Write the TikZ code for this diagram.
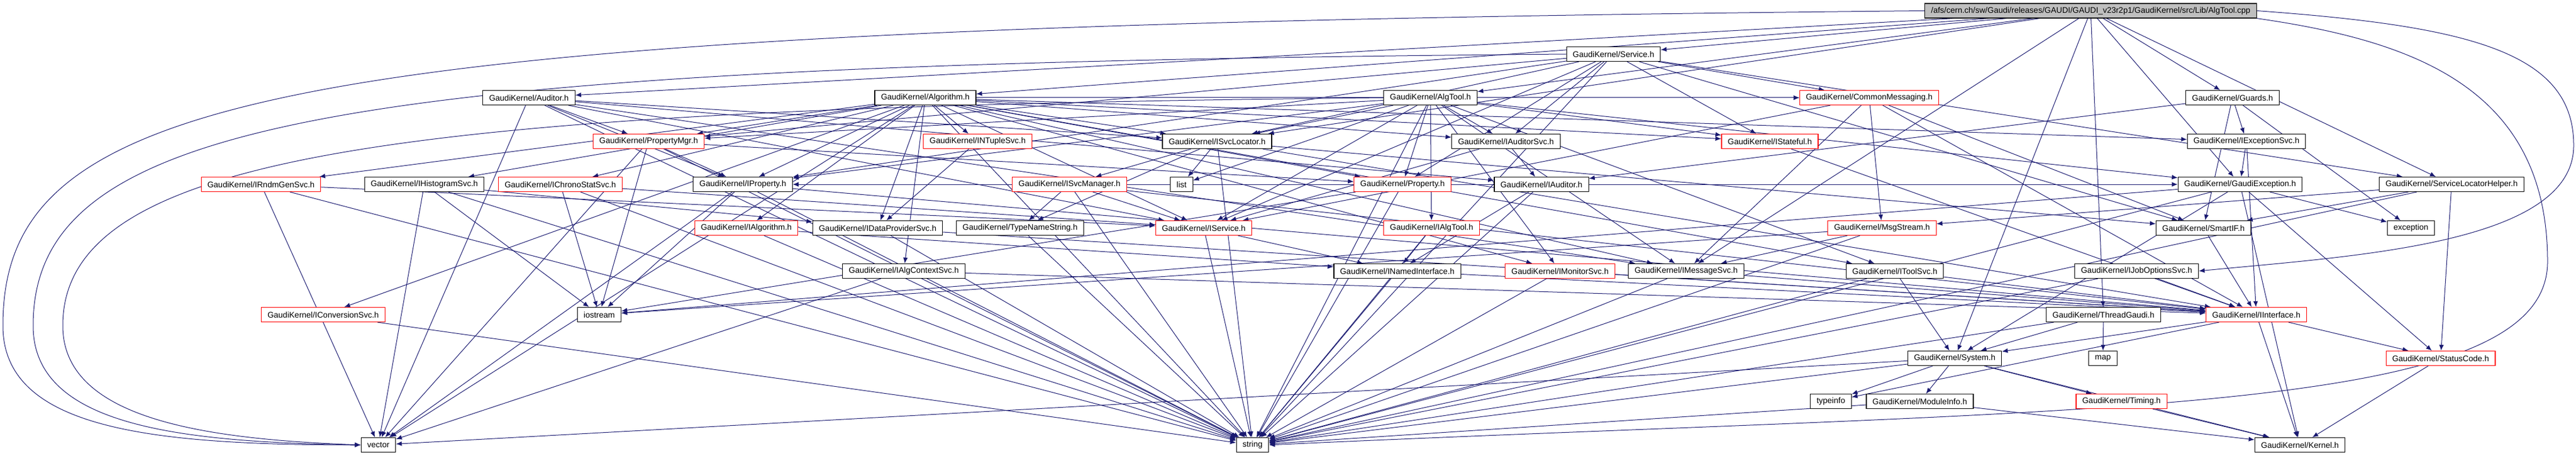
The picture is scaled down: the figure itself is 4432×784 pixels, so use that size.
\documentclass[tikz,border=0pt]{standalone}
\usepackage{fontspec}
\setmainfont{Liberation Sans}
\usetikzlibrary{arrows.meta,positioning,backgrounds}

\definecolor{depblue}{RGB}{25,25,112}
\definecolor{rootgray}{RGB}{191,191,191}

\tikzset{
    hdr/.style={rectangle, draw=black, line width=0.9pt, fill=white,
        minimum height=18.75pt, inner xsep=8pt, inner ysep=0pt,
        font=\fontsize{10.5}{12}\selectfont},
    trunc/.style={hdr, draw=red},
    rootbox/.style={hdr, fill=rootgray},
    dep/.style={>={Latex[length=7.5pt,width=6pt]}, ->, color=depblue, line width=0.75pt}
}

\begin{document}
\begin{tikzpicture}[x=0.75pt,y=-0.75pt]
    \useasboundingbox (0,0) rectangle (4432,784);

    \node[rootbox] (root) at (3597,18.5) {/afs/cern.ch/sw/Gaudi/releases/GAUDI/GAUDI\_v23r2p1/GaudiKernel/src/Lib/AlgTool.cpp};

    \node[hdr] (service) at (2776,93) {GaudiKernel/Service.h};

    \node[hdr] (auditor) at (910,168) {GaudiKernel/Auditor.h};
    \node[hdr] (algorithm) at (1592,168) {GaudiKernel/Algorithm.h};
    \node[hdr] (algtool) at (2461,168) {GaudiKernel/AlgTool.h};
    \node[trunc] (commonmsg) at (3216,168) {GaudiKernel/CommonMessaging.h};
    \node[hdr] (guards) at (3841,168) {GaudiKernel/Guards.h};

    \node[trunc] (propmgr) at (1116,243) {GaudiKernel/PropertyMgr.h};
    \node[trunc] (ntuplesvc) at (1682,243) {GaudiKernel/INTupleSvc.h};
    \node[hdr] (svcloc) at (2094,243) {GaudiKernel/ISvcLocator.h};
    \node[hdr] (auditorsvc) at (2591,243) {GaudiKernel/IAuditorSvc.h};
    \node[trunc] (istateful) at (3045,243) {GaudiKernel/IStateful.h};
    \node[hdr] (excsvc) at (3865,243) {GaudiKernel/IExceptionSvc.h};

    \node[trunc] (rndmgen) at (449,317) {GaudiKernel/IRndmGenSvc.h};
    \node[hdr] (histosvc) at (730,317) {GaudiKernel/IHistogramSvc.h};
    \node[trunc] (chronosvc) at (964,317) {GaudiKernel/IChronoStatSvc.h};
    \node[hdr] (iproperty) at (1278,317) {GaudiKernel/IProperty.h};
    \node[trunc] (svcmgr) at (1840,317) {GaudiKernel/ISvcManager.h};
    \node[hdr] (list) at (2033,317) {list};
    \node[trunc] (property) at (2413,317) {GaudiKernel/Property.h};
    \node[hdr] (iauditor) at (2652,317) {GaudiKernel/IAuditor.h};
    \node[hdr] (gaudiexc) at (3854,317) {GaudiKernel/GaudiException.h};
    \node[hdr] (slhelper) at (4218,317) {GaudiKernel/ServiceLocatorHelper.h};

    \node[trunc] (ialgorithm) at (1284,392) {GaudiKernel/IAlgorithm.h};
    \node[hdr] (dataprov) at (1510,392) {GaudiKernel/IDataProviderSvc.h};
    \node[hdr] (typename) at (1755,392) {GaudiKernel/TypeNameString.h};
    \node[trunc] (iservice) at (2071,392) {GaudiKernel/IService.h};
    \node[trunc] (ialgtool) at (2463,392) {GaudiKernel/IAlgTool.h};
    \node[trunc] (msgstream) at (3238,392) {GaudiKernel/MsgStream.h};
    \node[hdr] (smartif) at (3791,392) {GaudiKernel/SmartIF.h};
    \node[hdr] (exception) at (4148,392) {exception};

    \node[hdr] (algctx) at (1555,466) {GaudiKernel/IAlgContextSvc.h};
    \node[hdr] (namedif) at (2404,466) {GaudiKernel/INamedInterface.h};
    \node[trunc] (monitorsvc) at (2684,466) {GaudiKernel/IMonitorSvc.h};
    \node[hdr] (msgsvc) at (2901,466) {GaudiKernel/IMessageSvc.h};
    \node[hdr] (toolsvc) at (3260,466) {GaudiKernel/IToolSvc.h};
    \node[hdr] (jobopt) at (3676,466) {GaudiKernel/IJobOptionsSvc.h};

    \node[trunc] (convsvc) at (556,541) {GaudiKernel/IConversionSvc.h};
    \node[hdr] (iostream) at (1031,541) {iostream};
    \node[hdr] (threadgaudi) at (3619,541) {GaudiKernel/ThreadGaudi.h};
    \node[trunc] (iinterface) at (3882,541) {GaudiKernel/IInterface.h};

    \node[hdr] (system) at (3363,616) {GaudiKernel/System.h};
    \node[hdr] (map) at (3618,616) {map};
    \node[trunc] (statuscode) at (4199,616) {GaudiKernel/StatusCode.h};

    \node[hdr] (typeinfo) at (3150,690) {typeinfo};
    \node[hdr] (moduleinfo) at (3303,690) {GaudiKernel/ModuleInfo.h};
    \node[trunc] (timing) at (3650,690) {GaudiKernel/Timing.h};

    \node[hdr] (vector) at (651,765) {vector};
    \node[hdr] (string) at (2155,765) {string};
    \node[hdr] (kernel) at (3957,765) {GaudiKernel/Kernel.h};

    \coordinate (farleftA) at (5,560);
    \coordinate (farleftB) at (57,560);
    \coordinate (farleftC) at (108,560);
    \coordinate (farrightA) at (4428,250);
    \coordinate (farrightB) at (4383,450);

    \begin{pgfonlayer}{background}
        \path[dep] (root) edge (service) edge (auditor) edge (algorithm) edge (algtool)
            edge (svcloc) edge (msgsvc) edge (system) edge (gaudiexc) edge (slhelper)
            edge (threadgaudi) edge (guards);
        \draw[dep] (root.west) .. controls (500,45) and (5,150) .. (farleftA)
            .. controls (5,735) and (250,765) .. (vector.west);
        \draw[dep] (root.east) .. controls (4250,45) and (4428,90) .. (farrightA)
            .. controls (4428,420) and (4050,440) .. (jobopt.east);
        \draw[dep] (root.south east) .. controls (4150,70) and (4383,150) .. (farrightB)
            .. controls (4383,720) and (3600,700) .. (string.east);

        \path[dep] (service) edge (commonmsg) edge (auditorsvc) edge (property) edge (istateful)
            edge (iservice) edge (svcloc) edge (propmgr) edge (iproperty) edge (slhelper)
            edge (smartif) edge (string);
        \draw[dep] (service.west) .. controls (600,110) and (57,200) .. (farleftB)
            .. controls (57,730) and (300,760) .. (vector.west);

        \path[dep] (auditor) edge (iauditor) edge (iproperty) edge (propmgr) edge (iservice)
            edge (svcloc) edge (msgsvc) edge (vector) edge (string);

        \path[dep] (algorithm) edge (iproperty) edge (ialgorithm) edge (iservice) edge (istateful)
            edge (propmgr) edge (svcloc) edge (msgsvc) edge (dataprov) edge (histosvc)
            edge (convsvc) edge (rndmgen) edge (chronosvc) edge (auditorsvc) edge (toolsvc)
            edge (monitorsvc) edge (excsvc) edge (algctx) edge (property) edge (commonmsg)
            edge (ntuplesvc) edge (string) edge (vector);

        \path[dep] (algtool) edge (ialgtool) edge (iproperty) edge (iservice) edge (svcloc)
            edge (msgsvc) edge (toolsvc) edge (propmgr) edge (auditorsvc) edge (monitorsvc)
            edge (istateful) edge (property) edge (commonmsg) edge (gaudiexc) edge (string)
            edge (list);
        \draw[dep] (algtool.west) .. controls (700,185) and (108,260) .. (farleftC)
            .. controls (108,720) and (350,755) .. (vector.west);

        \path[dep] (commonmsg) edge (msgstream) edge (msgsvc) edge (smartif) edge (iservice)
            edge (iinterface);
        \path[dep] (guards) edge (excsvc) edge (exception) edge (iauditor) edge (smartif);
        \path[dep] (propmgr) edge (iproperty) edge (property) edge (iostream) edge (vector)
            edge (string);
        \path[dep] (ntuplesvc) edge (dataprov);
        \path[dep] (svcloc) edge (svcmgr) edge (list) edge (iinterface) edge (smartif)
            edge (typename) edge (string);
        \path[dep] (auditorsvc) edge (iauditor) edge (iservice);
        \path[dep] (istateful) edge (iinterface);
        \path[dep] (excsvc) edge (gaudiexc) edge (iinterface);

        \path[dep] (rndmgen) edge (iservice) edge (vector) edge (string);
        \path[dep] (histosvc) edge (dataprov) edge (iostream) edge (vector) edge (string);
        \path[dep] (chronosvc) edge (iservice) edge (iostream) edge (string);
        \path[dep] (iproperty) edge (iinterface) edge (iostream) edge (string) edge (vector);
        \path[dep] (svcmgr) edge (typename) edge (iservice) edge (iinterface) edge (string);
        \path[dep] (property) edge (iproperty) edge (gaudiexc) edge (iostream) edge (string);
        \path[dep] (iauditor) edge (namedif) edge (string);
        \path[dep] (gaudiexc) edge (iostream) edge (exception) edge (statuscode) edge (kernel)
            edge (system) edge (string);
        \path[dep] (slhelper) edge (msgstream) edge (smartif) edge (statuscode) edge (string);

        \path[dep] (ialgorithm) edge (namedif) edge (string);
        \path[dep] (dataprov) edge (iinterface) edge (string);
        \path[dep] (typename) edge (string);
        \path[dep] (iservice) edge (namedif) edge (string);
        \path[dep] (ialgtool) edge (namedif) edge (string);
        \path[dep] (msgstream) edge (msgsvc) edge (iostream) edge (string);
        \path[dep] (smartif) edge (iinterface);

        \path[dep] (algctx) edge (iinterface) edge (vector);
        \path[dep] (namedif) edge (iinterface) edge (string);
        \path[dep] (monitorsvc) edge (iinterface) edge (string);
        \path[dep] (msgsvc) edge (iinterface) edge (string);
        \path[dep] (toolsvc) edge (system) edge (iinterface) edge (string);
        \path[dep] (jobopt) edge (iinterface) edge (string);

        \path[dep] (convsvc) edge (string);
        \path[dep] (threadgaudi) edge (system) edge (map) edge (string);
        \path[dep] (iinterface) edge (system) edge (kernel) edge (statuscode) edge (typeinfo);

        \path[dep] (system) edge (typeinfo) edge (moduleinfo) edge (timing) edge (kernel)
            edge (string) edge (vector);
        \path[dep] (moduleinfo) edge (kernel) edge (string);
        \path[dep] (timing) edge (kernel);
        \path[dep] (statuscode) edge (kernel);
    \end{pgfonlayer}
\end{tikzpicture}
\end{document}
